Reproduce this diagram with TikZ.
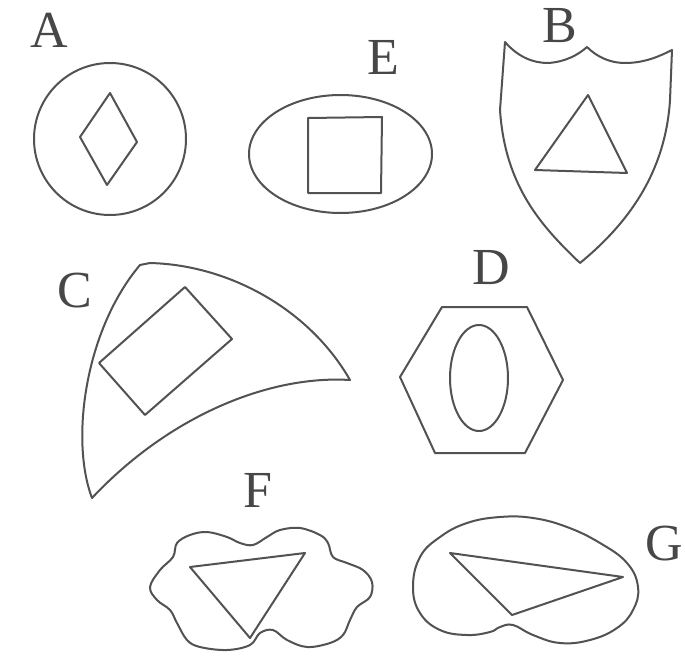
\documentclass[tikz,border=0pt]{standalone}
\usepackage{fontspec}
\setmainfont{Liberation Serif}
\begin{document}
\begin{tikzpicture}[x=1pt,y=-1pt,
  shp/.style={draw=black!68,line width=2pt,line join=round},
  lbl/.style={inner sep=0pt,text=black!72,font=\fontsize{52}{52}\selectfont}]
\useasboundingbox[fill=white] (0,0) rectangle (685,661);
% labels
\node[lbl] (lA) at (49,30) {A};
\node[lbl] (lE) at (383,57) {E};
\node[lbl] (lB) at (560,26) {B};
\node[lbl] (lC) at (75,291) {C};
\node[lbl] (lD) at (491,268) {D};
\node[lbl] (lF) at (258,490) {F};
\node[lbl] (lG) at (664,544) {G};
% A
\draw[shp] (110,139) circle[radius=76];
\draw[shp] (110,93) -- (137,142) -- (107,185) -- (80,137) -- cycle;
% E
\draw[shp] (340.5,154) ellipse[x radius=91.5,y radius=59];
\draw[shp] (308,118) -- (382,117) -- (381,193) -- (308,193) -- cycle;
% B shield
\draw[shp] (505,42) .. controls (518,57) and (533,63) .. (548,63)
  .. controls (565,62) and (578,55) .. (587,47)
  .. controls (597,57) and (610,63) .. (625,63)
  .. controls (645,63) and (660,56) .. (672,50)
  -- (670,100) .. controls (665,180) and (620,230) .. (580,263)
  .. controls (540,225) and (505,185) .. (500,110) -- cycle;
\draw[shp] (588,95) -- (627,173) -- (535,170) -- cycle;
% C
\draw[shp] (140,265) -- (150,263) .. controls (230,265) and (310,310) .. (350,380)
  .. controls (270,375) and (170,415) .. (92,498)
  .. controls (70,440) and (85,330) .. (140,265) -- cycle;
\draw[shp] (185,287) -- (232,339) -- (145,415) -- (99,363) -- cycle;
% D
\draw[shp] (442,307) -- (527,307) -- (563,380) -- (525,453) -- (435,453) -- (400,377) -- cycle;
\draw[shp] (479,378) ellipse[x radius=29,y radius=53];
% F cloud
\draw[shp] plot[smooth cycle,tension=0.6] coordinates {
 (150,587) (160,570) (173,557) (177,543) (190,535) (207,532) (227,537) (240,543)
 (253,545) (267,537) (280,530) (300,528) (320,535) (328,543) (333,557) (347,563)
 (363,570) (372,582) (370,597) (357,607) (350,620) (343,635) (330,643) (307,647)
 (287,640) (273,630) (260,633) (250,645) (227,650) (200,647) (187,640) (177,623)
 (170,610) (157,600)};
\draw[shp] (190,567) -- (305,553) -- (250,638) -- cycle;
% G
\draw[shp] plot[smooth cycle,tension=0.7] coordinates {
 (413,587) (420,557) (440,537) (467,523) (500,517) (533,518) (567,527) (600,543)
 (627,563) (638,587) (633,610) (617,628) (590,640) (560,643) (533,635) (513,625)
 (500,627) (490,632) (467,635) (440,630) (420,613)};
\draw[shp] (450,553) -- (623,577) -- (512,615) -- cycle;
\end{tikzpicture}
\end{document}
